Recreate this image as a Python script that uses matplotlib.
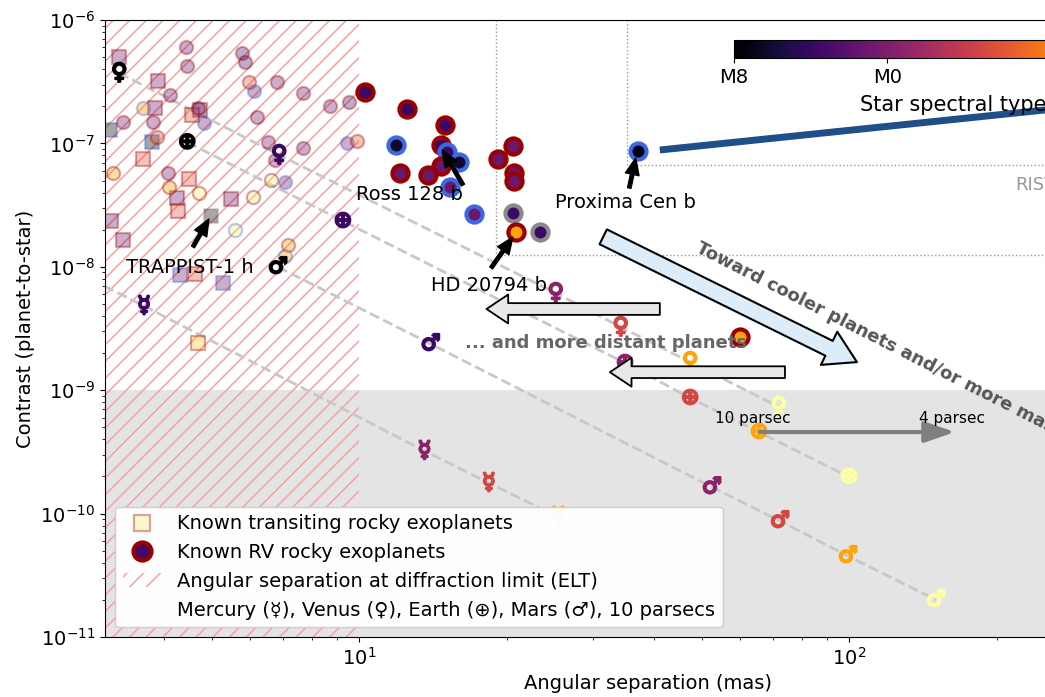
import matplotlib
matplotlib.use("Agg")
import matplotlib.pyplot as plt
import matplotlib.patheffects as pe
from matplotlib import cm, colors as mcolors
from matplotlib.lines import Line2D
from matplotlib.patches import Patch

# -----------------------
# Data (angular separation in mas, contrast planet-to-star)
# -----------------------
IWA = 10.0  # ELT diffraction-limited separation (mas)

# colour of the host star on the inferno scale (0 = M8 ... 1 = F)
star_cval = [0.0, 0.18, 0.38, 0.57, 0.8, 1.0]

# Solar-system planets seen at 10 pc around the six host stars
merc_sep = [1.74, 3.64, 13.6, 18.4, 25.5, 39.0]
merc_con = [2.1e-8, 4.81e-9, 3.22e-10, 1.77e-10, 9.4e-11, 4.05e-11]
venus_sep = [3.24, 6.87, 25.2, 34.2, 47.4, 71.9]
venus_con = [3.72e-7, 8.05e-8, 6.13e-9, 3.25e-9, 1.69e-9, 7.31e-10]
earth_sep = [4.46, 9.27, 34.9, 47.4, 65.5, 100.0]
earth_con = [1.02e-7, 2.35e-8, 1.66e-9, 8.65e-10, 4.58e-10, 1.98e-10]
mars_sep = [6.83, 14.0, 52.5, 72.3, 99.5, 150.5]
mars_con = [9.96e-9, 2.37e-9, 1.64e-10, 8.71e-11, 4.53e-11, 2.0e-11]

# Known transiting rocky exoplanets
tr_sep = [3.24, 3.89, 3.83, 3.10, 3.78, 4.74, 4.56, 3.62, 4.50, 4.25,
          4.27, 5.48, 4.99, 3.12, 3.30, 4.31, 4.63, 5.28, 4.69]
tr_con = [5.0e-7, 3.2e-7, 1.95e-7, 1.28e-7, 1.03e-7, 1.86e-7, 1.71e-7, 7.5e-8, 5.1e-8, 3.6e-8,
          2.83e-8, 3.54e-8, 2.58e-8, 2.35e-8, 1.65e-8, 8.6e-9, 8.8e-9, 7.4e-9, 2.4e-9]
tr_cval = [0.3, 0.3, 0.3, 0.0, 0.0, 0.25, 0.6, 0.6, 0.6, 0.3,
           0.6, 0.3, 0.0, 0.3, 0.3, 0.3, 0.6, 0.3, 0.85]
tr_edge = ["r", "r", "r", "b", "b", "r", "r", "r", "r", "r",
           "r", "r", "g", "r", "r", "b", "r", "b", "r"]

# Known RV rocky exoplanets
rv_sep = [4.43, 4.46, 4.11, 3.62, 3.30, 3.80, 3.87, 4.69, 4.83, 3.15,
          4.08, 4.09, 4.71, 6.08, 5.58, 7.16, 7.06, 5.77, 5.85, 5.96,
          6.11, 6.80, 7.69, 6.19, 8.73, 9.54, 6.52, 7.69, 9.45, 9.9,
          6.74, 6.61, 7.06,
          10.3, 12.5, 11.9, 12.1, 15.0, 14.7, 15.1, 16.0, 14.7, 13.8,
          15.3, 17.2, 20.6, 19.2, 20.7, 20.7, 20.6, 20.9, 23.4, 37.1, 60.0]
rv_con = [6.0e-7, 4.2e-7, 2.47e-7, 1.95e-7, 1.49e-7, 1.49e-7, 1.13e-7, 1.95e-7, 1.46e-7, 5.8e-8,
          5.8e-8, 4.4e-8, 3.96e-8, 3.68e-8, 1.99e-8, 1.5e-8, 1.23e-8, 5.4e-7, 4.6e-7, 3.14e-7,
          2.68e-7, 3.14e-7, 2.56e-7, 1.64e-7, 2.0e-7, 2.17e-7, 1.03e-7, 9.2e-8, 1.0e-7, 1.04e-7,
          7.3e-8, 5.05e-8, 4.87e-8,
          2.6e-7, 1.9e-7, 9.7e-8, 5.76e-8, 1.41e-7, 9.7e-8, 8.5e-8, 7.07e-8, 6.56e-8, 5.55e-8,
          4.4e-8, 2.68e-8, 9.5e-8, 7.5e-8, 5.76e-8, 4.95e-8, 2.75e-8, 1.91e-8, 1.91e-8, 8.7e-8, 2.7e-9]
rv_cval = [0.3, 0.3, 0.3, 0.78, 0.3, 0.3, 0.62, 0.3, 0.3, 0.78,
           0.3, 0.78, 0.95, 0.95, 0.95, 0.78, 0.78, 0.22, 0.22, 0.62,
           0.3, 0.3, 0.3, 0.3, 0.3, 0.22, 0.3, 0.3, 0.3, 0.62,
           0.3, 0.95, 0.3,
           0.18, 0.18, 0.08, 0.3, 0.18, 0.18, 0.18, 0.08, 0.3, 0.3,
           0.3, 0.3, 0.3, 0.3, 0.3, 0.3, 0.18, 0.8, 0.18, 0.03, 0.8]
rv_edge = ["r", "r", "r", "b", "r", "r", "r", "r", "b", "r",
           "r", "r", "r", "r", "b", "r", "b", "r", "r", "r",
           "b", "r", "r", "r", "r", "r", "r", "r", "b", "r",
           "r", "r", "b",
           "r", "r", "b", "r", "r", "r", "b", "b", "r", "r",
           "b", "b", "r", "r", "r", "r", "g", "r", "g", "b", "r"]

cb_ticks = [0.0, 0.35, 0.78, 0.95]
cb_labels = ["M8", "M0", "K0", "G0"]

# -----------------------
# Plot
# -----------------------
cmap = plt.get_cmap("inferno")
edge_colors = {"r": "#9b0000", "b": "#3d68e0", "g": "#8a8a8a"}
hatch_col = "#f3a2a2"
plt.rcParams["hatch.linewidth"] = 1.1

W, H = 1045, 697
fig = plt.figure(figsize=(W / 100, H / 100), dpi=100)
ax = fig.add_axes([105 / W, 60 / H, 1086.5 / W, 617 / H])
ax.set_xscale("log")
ax.set_yscale("log")
ax.set_xlim(3.03, 500)
ax.set_ylim(1e-11, 1e-6)

# background regions
ax.axhspan(1e-12, 1e-9, color="#e4e4e4", lw=0, zorder=0)
ax.axvspan(1, IWA, facecolor="none", edgecolor=hatch_col, hatch="//", lw=0, zorder=0.5)

# instrument boxes (dotted)
box_kw = dict(color="#999999", ls=":", lw=1, zorder=0.8)
ax.plot([19.0, 19.0, 1000], [1e-6, 1.25e-8, 1.25e-8], **box_kw)
ax.plot([35.2, 35.2, 1000], [1e-6, 6.68e-8, 6.68e-8], **box_kw)
ax.text(218, 4.6e-8, "RISTRETTO", color="#999999", fontsize=13, va="center")

# solar-system analogues
planets = [("\u263F", merc_sep, merc_con), ("\u2640", venus_sep, venus_con),
           ("\u2295", earth_sep, earth_con), ("\u2642", mars_sep, mars_con)]
for sym, xs, ys in planets:
    ax.plot(xs, ys, ls="--", color="#c8c8c8", lw=2, zorder=1)
    for x, y, c in zip(xs, ys, star_cval):
        col = cmap(c)
        ax.text(x, y, sym, color=col, fontsize=16, ha="center", va="center",
                clip_on=True, zorder=4,
                path_effects=[pe.withStroke(linewidth=1.6, foreground=col)])

# transiting planets (all inside the diffraction limit -> faded)
for x, y, c, e in zip(tr_sep, tr_con, tr_cval, tr_edge):
    a = 0.35 if x < IWA else 1.0
    ax.scatter(x, y, marker="s", s=90, color=cmap(c), edgecolors=edge_colors[e],
               linewidths=1.6, alpha=a, zorder=2)

# RV planets
for x, y, c, e in zip(rv_sep, rv_con, rv_cval, rv_edge):
    if x < IWA:
        ax.scatter(x, y, marker="o", s=90, color=cmap(c), edgecolors=edge_colors[e],
                   linewidths=1.6, alpha=0.35, zorder=2)
    else:
        ax.scatter(x, y, marker="o", s=135, color=cmap(c), edgecolors=edge_colors[e],
                   linewidths=3, zorder=3)

# line from Proxima b to the right
ax.plot([41.1, 500], [8.84e-8, 2.48e-7], color="#1f4e89", lw=5, zorder=3, solid_capstyle="butt")

# named planets
arrow_kw = dict(facecolor="black", edgecolor="black", width=2.5, headwidth=10, headlength=12, shrink=0)
ax.text(3.35, 9.8e-9, "TRAPPIST-1 h", fontsize=14, va="center", zorder=6)
ax.annotate("", xy=(4.94, 2.44e-8), xytext=(4.58, 1.45e-8), arrowprops=arrow_kw, zorder=6)
ax.text(9.86, 3.82e-8, "Ross 128 b", fontsize=14, va="center", zorder=6)
ax.annotate("", xy=(14.8, 8.84e-8), xytext=(16.3, 4.6e-8), arrowprops=arrow_kw, zorder=6)
ax.text(14.0, 7.12e-9, "HD 20794 b", fontsize=14, va="center", zorder=6)
ax.annotate("", xy=(20.6, 1.74e-8), xytext=(18.6, 9.8e-9), arrowprops=arrow_kw, zorder=6)
ax.text(25.1, 3.29e-8, "Proxima Cen b", fontsize=14, va="center", zorder=6)
ax.annotate("", xy=(36.7, 7.62e-8), xytext=(35.6, 4.35e-8), arrowprops=arrow_kw, zorder=6)

# block arrows
block = "simple,head_width=1.6,head_length=1.2,tail_width=0.65"
ax.annotate("", xy=(18.2, 4.55e-9), xytext=(41.1, 4.55e-9), zorder=6,
            arrowprops=dict(arrowstyle=block, mutation_scale=13, fc="#e8e8e8", ec="black",
                            lw=1.3, shrinkA=0, shrinkB=0))
ax.annotate("", xy=(32.5, 1.40e-9), xytext=(74.0, 1.40e-9), zorder=6,
            arrowprops=dict(arrowstyle=block, mutation_scale=13, fc="#e8e8e8", ec="black",
                            lw=1.3, shrinkA=0, shrinkB=0))
ax.text(16.45, 2.41e-9, "... and more distant planets", fontsize=13, fontweight="bold",
        color="#666666", va="center", zorder=6)
ax.annotate("", xy=(103.8, 1.69e-9), xytext=(31.5, 1.75e-8), zorder=6,
            arrowprops=dict(arrowstyle="simple,head_width=1.9,head_length=1.6,tail_width=0.85",
                            mutation_scale=14, fc="#dcecf8", ec="black", lw=1.5,
                            shrinkA=0, shrinkB=0))
ax.text(48.9, 1.45e-8, "Toward cooler planets and/or more massive planets", fontsize=13,
        fontweight="bold", color="#555555", rotation=-27, rotation_mode="anchor",
        ha="left", va="center", zorder=6)

# distance arrow
ax.annotate("", xy=(164.5, 4.58e-10), xytext=(65.8, 4.58e-10), zorder=6,
            arrowprops=dict(arrowstyle="-|>,head_width=0.45,head_length=1.3", color="#808080",
                            lw=3, mutation_scale=14, shrinkA=0, shrinkB=0))
ax.text(63.5, 5.95e-10, "10 parsec", fontsize=11, ha="center", va="center", zorder=6)
ax.text(162, 5.95e-10, "4 parsec", fontsize=11, ha="center", va="center", zorder=6)

ax.set_xlabel("Angular separation (mas)", fontsize=14)
ax.set_ylabel("Contrast (planet-to-star)", fontsize=14)
ax.tick_params(labelsize=14)

# legend
handles = [
    Line2D([], [], ls="", marker="s", ms=12, mfc=cmap(0.95), mec="#9b0000", mew=1.6, alpha=0.35),
    Line2D([], [], ls="", marker="o", ms=13, mfc=cmap(0.2), mec="#9b0000", mew=3),
    Patch(facecolor="none", edgecolor=hatch_col, hatch="//", lw=0),
    Line2D([], [], ls="", marker=""),
]
labels = ["Known transiting rocky exoplanets", "Known RV rocky exoplanets",
          "Angular separation at diffraction limit (ELT)",
          "Mercury (\u263F), Venus (\u2640), Earth (\u2295), Mars (\u2642), 10 parsecs"]
leg = ax.legend(handles, labels, loc="lower left", fontsize=14, labelspacing=0.5,
                framealpha=0.97)
leg.set_zorder(10)

# colorbar
cax = fig.add_axes([734 / W, 1 - 58 / H, 438 / W, 18 / H])
sm = cm.ScalarMappable(norm=mcolors.Normalize(0, 1), cmap=cmap)
cb = fig.colorbar(sm, cax=cax, orientation="horizontal")
cb.set_ticks(cb_ticks)
cb.set_ticklabels(cb_labels)
cb.ax.tick_params(labelsize=14)
cb.set_label("Star spectral type", fontsize=15, labelpad=6)

fig.savefig("out.png", dpi=100)
